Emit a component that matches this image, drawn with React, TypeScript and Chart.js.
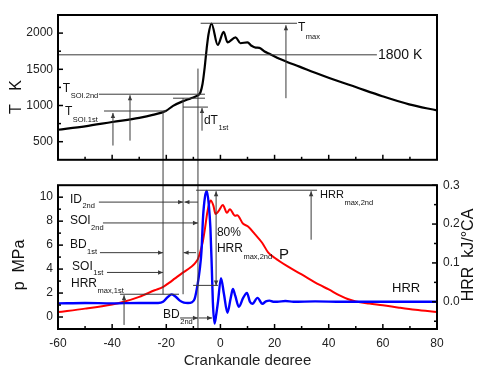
import React, { useEffect, useRef } from 'react';
import { Chart, registerables } from 'chart.js';

Chart.register(...registerables);

const FONT = '"Liberation Sans", Arial, Helvetica, sans-serif';
const W = 478;
const TOP_H = 172;
const BOT_H = 193;

// ---------- series ----------
const tAngle = [-60, -50, -40, -30, -25, -20.2, -17.5, -13.8, -11, -8.7, -7.4, -6.6, -5.8, -5.1, -4.4, -3.3, -1.0, 1.2, 2.6, 5.6, 7.4, 10, 11.5, 13, 14.4, 16.3, 18.1, 21.8, 24.4, 29.2, 35, 40.2, 50.2, 59.8, 69.7, 80];
const tValue = [665, 712, 772, 830, 870, 924, 995, 1060, 1098, 1132, 1180, 1300, 1530, 1780, 1985, 2132, 1836, 2018, 1873, 1941, 1860, 1873, 1825, 1800, 1796, 1745, 1714, 1645, 1605, 1537, 1452, 1380, 1251, 1128, 1015, 932];

const pAngle = [-60, -50, -40, -36, -30, -24.3, -21.3, -19, -16.9, -13.9, -11, -9.5, -8.2, -7.5, -6.5, -5.7, -4.8, -4.2, -3.6, -2.6, -1.8, -0.5, 0.9, 2.4, 3.5, 5.4, 6.2, 8.3, 10.2, 12.8, 15.4, 17.6, 20, 25, 30, 36.5, 40, 44, 47, 50, 55, 60, 66, 72, 80];
const pValue = [0.41, 0.70, 1.05, 1.25, 1.68, 2.23, 2.5, 2.85, 3.2, 3.7, 4.15, 4.45, 4.9, 5.4, 6.3, 7.4, 8.8, 9.4, 9.72, 9.3, 8.6, 8.9, 9.34, 8.7, 9.0, 8.45, 8.5, 7.8, 7.55, 6.9, 6.2, 5.4, 4.95, 4.2, 3.55, 2.7, 2.3, 1.8, 1.5, 1.3, 1.12, 0.98, 0.78, 0.6, 0.42];

const hAngle = [-60, -50, -40, -30, -23, -21.2, -19.5, -18, -16.5, -15, -13.5, -12, -10.5, -9.5, -8.4, -7.7, -7, -6.4, -5.7, -5.0, -4.3, -3.7, -3.2, -2.8, -2.2, -1.6, -0.9, 0.2, 1.3, 2.6, 3.8, 4.6, 5.5, 6.8, 8.4, 9.8, 10.9, 11.8, 13.7, 15.5, 16.8, 18.1, 19.5, 21, 24, 27, 35, 45, 60, 70, 80];
const hValue = [-0.004, -0.003, -0.004, -0.003, -0.003, 0.0, 0.012, 0.019, 0.013, 0.003, -0.002, -0.003, -0.001, 0.008, 0.046, 0.08, 0.13, 0.22, 0.27, 0.285, 0.25, 0.19, 0.09, 0.0, -0.056, -0.035, 0.0, 0.061, 0.02, -0.028, 0.01, 0.033, 0.015, -0.013, 0.01, 0.023, 0.0, -0.005, 0.01, -0.005, 0.001, 0.003, 0.0, 0.0, 0.002, 0.0, 0.001, 0.0, 0.0, 0.0, 0.0];

// ---------- ticks ----------
const xTicks = [-60, -40, -20, 0, 20, 40, 60, 80];
const xMinorTicks = [-50, -30, -10, 10, 30, 50, 70];
const tTicks = [500, 1000, 1500, 2000];
const tMinorTicks = [750, 1250, 1750];
const pTicks = [0, 2, 4, 6, 8, 10];
const pMinorTicks = [1, 3, 5, 7, 9];
const hTicks = [0, 0.1, 0.2, 0.3];
const hMinorTicks = [-0.05, 0.05, 0.15, 0.25];

// ---------- annotations (data coordinates) ----------
// top chart: horizontal guide lines [xFrom, xTo, T]
const tHLines = [
  [-7.3, 28.3, 2136],
  [-60, 57.8, 1700],
  [-44.9, -5.7, 1156],
  [-17.5, -5.7, 1101],
  [-13.8, -4.6, 978],
  [-43.0, -20.1, 924],
];
// top chart: vertical arrows [x, fromT, tipT]
const tArrows = [
  [-39.7, 447, 897],
  [-33.4, 515, 1142],
  [24.2, 1101, 2109],
  [-6.8, 652, 965],
];
// cursor lines crossing both panels [x, start T (top), end p (bottom)]
const cursorLines = [
  [-21.2, 924, 1.9],
  [-13.8, 1101, 1.9],
  [-8.3, 1510, -1],
];
// top labels [main, sub, x, T, size, subDy]
const tLabels: [string, string, number, number, number, number][] = [
  ['T', 'max', 28.66, 2068, 12, 9],
  ['1800 K', '', 58.2, 1700, 14, 0],
  ['T', 'SOI.2nd', -58.2, 1237, 12, 8],
  ['T', 'SOI.1st', -57.4, 910, 12, 8],
  ['dT', '1st', -6.1, 788, 12, 7],
];
// bottom: horizontal arrows [xFrom, xTip, p]
const pHArrows = [
  [-44.9, -13.8, 9.59],
  [-8.3, -13.3, 9.59],
  [-43.4, -8.3, 7.85],
  [-44.5, -21.2, 5.37],
  [-9.0, -13.6, 5.37],
  [-41.9, -21.2, 3.72],
  [-14.9, -8.3, -0.08],
  [-8.0, -3.1, -0.08],
];
// bottom: plain horizontal lines [xFrom, xTo, p]
const pHLines = [
  [-37.1, -15.3, 1.9],
  [-9.0, 35.7, 10.58],
  [-10.1, -0.9, 2.64],
];
// bottom: vertical arrows [x, fromP, tipP]
const pVArrows = [
  [-35.6, -0.66, 1.82],
  [33.5, 6.45, 10.5],
  [-1.6, 6.0, 10.5],
  [-1.6, 6.0, 2.64],
];
// bottom labels [main, sub, x, p, size, subDy]
const pLabels: [string, string, number, number, number, number][] = [
  ['ID', '2nd', -55.6, 9.83, 12, 7],
  ['SOI', '2nd', -55.6, 8.02, 12, 7],
  ['BD', '1st', -55.6, 6.03, 12, 7],
  ['SOI', '1st', -54.8, 4.21, 12, 6],
  ['HRR', 'max,1st', -55.2, 2.81, 12, 8],
  ['BD', '2nd', -21.2, 0.17, 12, 7],
  ['HRR', 'max,2nd', 36.8, 10.17, 11, 8],
  ['80%', '', -1.3, 7.02, 12, 0],
  ['HRR', 'max,2nd', -1.3, 5.70, 12, 8],
  ['P', '', 21.6, 5.21, 15, 0],
  ['HRR', '', 63.4, 2.40, 13, 0],
];

// ---------- drawing helpers ----------
function seg(ctx: CanvasRenderingContext2D, x0: number, y0: number, x1: number, y1: number) {
  ctx.beginPath();
  ctx.moveTo(x0, y0);
  ctx.lineTo(x1, y1);
  ctx.stroke();
}
function arrow(ctx: CanvasRenderingContext2D, x0: number, y0: number, x1: number, y1: number) {
  seg(ctx, x0, y0, x1, y1);
  const a = Math.atan2(y1 - y0, x1 - x0);
  const len = 5, half = 2.2;
  ctx.beginPath();
  ctx.moveTo(x1, y1);
  ctx.lineTo(x1 - len * Math.cos(a) + half * Math.sin(a), y1 - len * Math.sin(a) - half * Math.cos(a));
  ctx.lineTo(x1 - len * Math.cos(a) - half * Math.sin(a), y1 - len * Math.sin(a) + half * Math.cos(a));
  ctx.closePath();
  ctx.fill();
}
function label(ctx: CanvasRenderingContext2D, main: string, sub: string, px: number, py: number, size: number, subDy: number) {
  ctx.font = `${size}px ${FONT}`;
  ctx.textAlign = 'left';
  ctx.textBaseline = 'middle';
  ctx.fillText(main, px, py);
  if (sub) {
    const w = ctx.measureText(main).width;
    ctx.font = `7.5px ${FONT}`;
    ctx.fillText(sub, px + w + 0.5, py + subDy);
  }
}
function vTitle(ctx: CanvasRenderingContext2D, text: string, cx: number, cy: number, size: number) {
  ctx.save();
  ctx.translate(cx, cy);
  ctx.rotate(-Math.PI / 2);
  ctx.font = `${size}px ${FONT}`;
  ctx.textAlign = 'center';
  ctx.textBaseline = 'middle';
  ctx.fillText(text, 0, 0);
  ctx.restore();
}
function frameAndTicks(ctx: CanvasRenderingContext2D, chart: any, yLeft: any, yLeftMaj: number[], yLeftMin: number[], yRight?: any, yRightMaj?: number[], yRightMin?: number[]) {
  const a = chart.chartArea;
  const xs = chart.scales.x;
  ctx.strokeStyle = '#000';
  ctx.lineWidth = 1.5;
  xTicks.forEach(v => { const px = xs.getPixelForValue(v); seg(ctx, px, a.bottom, px, a.bottom - 5); });
  xMinorTicks.forEach(v => { const px = xs.getPixelForValue(v); seg(ctx, px, a.bottom, px, a.bottom - 3); });
  yLeftMaj.forEach(v => { const py = yLeft.getPixelForValue(v); seg(ctx, a.left, py, a.left + 5, py); });
  yLeftMin.forEach(v => { const py = yLeft.getPixelForValue(v); seg(ctx, a.left, py, a.left + 3, py); });
  if (yRight && yRightMaj && yRightMin) {
    yRightMaj.forEach(v => { const py = yRight.getPixelForValue(v); seg(ctx, a.right, py, a.right - 5, py); });
    yRightMin.forEach(v => { const py = yRight.getPixelForValue(v); seg(ctx, a.right, py, a.right - 3, py); });
  }
  ctx.lineWidth = 2;
  ctx.strokeRect(a.left, a.top, a.right - a.left, a.bottom - a.top);
}

const topOverlay = {
  id: 'topOverlay',
  afterDraw(chart: any) {
    const ctx: CanvasRenderingContext2D = chart.ctx;
    const xs = chart.scales.x, ys = chart.scales.y;
    const X = (v: number) => xs.getPixelForValue(v);
    const Y = (v: number) => ys.getPixelForValue(v);
    ctx.save();
    ctx.strokeStyle = '#3a3a3a';
    ctx.fillStyle = '#3a3a3a';
    ctx.lineWidth = 1;
    tHLines.forEach(([x0, x1, t]) => seg(ctx, X(x0), Y(t), X(x1), Y(t)));
    tArrows.forEach(([x, f, t]) => arrow(ctx, X(x), Y(f), X(x), Y(t)));
    cursorLines.forEach(([x, t]) => seg(ctx, X(x), Y(t), X(x), chart.height));
    frameAndTicks(ctx, chart, ys, tTicks, tMinorTicks);
    ctx.fillStyle = '#111';
    tLabels.forEach(([m, s, x, t, size, dy]) => label(ctx, m, s, X(x), Y(t), size, dy));
    vTitle(ctx, 'T   K', 17, 97, 16);
    ctx.restore();
  },
};

const bottomOverlay = {
  id: 'bottomOverlay',
  afterDraw(chart: any) {
    const ctx: CanvasRenderingContext2D = chart.ctx;
    const xs = chart.scales.x, ps = chart.scales.yP, hs = chart.scales.yH;
    const X = (v: number) => xs.getPixelForValue(v);
    const Y = (v: number) => ps.getPixelForValue(v);
    ctx.save();
    ctx.strokeStyle = '#3a3a3a';
    ctx.fillStyle = '#3a3a3a';
    ctx.lineWidth = 1;
    cursorLines.forEach(([x, , p]) => seg(ctx, X(x), 0, X(x), Y(p)));
    pHLines.forEach(([x0, x1, p]) => seg(ctx, X(x0), Y(p), X(x1), Y(p)));
    pHArrows.forEach(([x0, x1, p]) => arrow(ctx, X(x0), Y(p), X(x1), Y(p)));
    pVArrows.forEach(([x, f, t]) => arrow(ctx, X(x), Y(f), X(x), Y(t)));
    frameAndTicks(ctx, chart, ps, pTicks, pMinorTicks, hs, hTicks, hMinorTicks);
    ctx.fillStyle = '#111';
    pLabels.forEach(([m, s, x, p, size, dy]) => label(ctx, m, s, X(x), Y(p), size, dy));
    vTitle(ctx, 'p  MPa', 20, 93, 16);
    vTitle(ctx, 'HRR  kJ/\u00B0CA', 469, 83, 16);
    ctx.restore();
  },
};

const tickFont = { size: 12, family: FONT };

export default function App() {
  const topRef = useRef<HTMLCanvasElement>(null);
  const botRef = useRef<HTMLCanvasElement>(null);

  useEffect(() => {
    const top = new Chart(topRef.current as HTMLCanvasElement, {
      type: 'line',
      data: {
        datasets: [{
          label: 'T',
          data: tAngle.map((x, i) => ({ x, y: tValue[i] })),
          borderColor: '#000',
          borderWidth: 2.2,
          pointRadius: 0,
          cubicInterpolationMode: 'monotone',
          fill: false,
        }],
      },
      options: {
        responsive: false,
        animation: false,
        events: [],
        layout: { padding: { left: 0, right: 41, top: 15, bottom: 0 } },
        plugins: { legend: { display: false }, tooltip: { enabled: false }, title: { display: false } },
        scales: {
          x: {
            type: 'linear', min: -60, max: 80,
            grid: { display: false, drawTicks: false },
            border: { display: false },
            ticks: { display: false },
            afterFit: (s: any) => { s.height = 10; },
          },
          y: {
            type: 'linear', min: 250, max: 2250,
            grid: { display: false, drawTicks: false },
            border: { display: false },
            ticks: { font: tickFont, color: '#222', padding: 5, autoSkip: false, callback: (v: any) => String(v) },
            afterBuildTicks: (s: any) => { s.ticks = tTicks.map(v => ({ value: v })); },
            afterFit: (s: any) => { s.width = 58; },
          },
        },
      } as any,
      plugins: [topOverlay],
    });

    const bot = new Chart(botRef.current as HTMLCanvasElement, {
      type: 'line',
      data: {
        datasets: [
          {
            label: 'HRR',
            data: hAngle.map((x, i) => ({ x, y: hValue[i] })),
            borderColor: '#0000ff',
            borderWidth: 2.4,
            pointRadius: 0,
            cubicInterpolationMode: 'monotone',
            fill: false,
            yAxisID: 'yH',
          },
          {
            label: 'P',
            data: pAngle.map((x, i) => ({ x, y: pValue[i] })),
            borderColor: '#ff0000',
            borderWidth: 2,
            pointRadius: 0,
            cubicInterpolationMode: 'monotone',
            fill: false,
            yAxisID: 'yP',
          },
        ],
      },
      options: {
        responsive: false,
        animation: false,
        events: [],
        layout: { padding: { left: 0, right: 0, top: 11, bottom: 0 } },
        plugins: { legend: { display: false }, tooltip: { enabled: false }, title: { display: false } },
        scales: {
          x: {
            type: 'linear', min: -60, max: 80,
            grid: { display: false, drawTicks: false },
            border: { display: false },
            ticks: { font: tickFont, color: '#222', padding: 7, maxRotation: 0, autoSkip: false, callback: (v: any) => String(v) },
            afterBuildTicks: (s: any) => { s.ticks = xTicks.map(v => ({ value: v })); },
            title: { display: true, text: 'Crankangle degree', font: { size: 15, family: FONT }, color: '#222', padding: { top: 0, bottom: -5 } },
            afterFit: (s: any) => { s.height = 36; },
          },
          yP: {
            type: 'linear', position: 'left', min: -1, max: 11,
            grid: { display: false, drawTicks: false },
            border: { display: false },
            ticks: { font: tickFont, color: '#222', padding: 5, autoSkip: false, callback: (v: any) => String(v) },
            afterBuildTicks: (s: any) => { s.ticks = pTicks.map(v => ({ value: v })); },
            afterFit: (s: any) => { s.width = 58; },
          },
          yH: {
            type: 'linear', position: 'right', min: -0.07, max: 0.3,
            grid: { display: false, drawTicks: false },
            border: { display: false },
            ticks: { font: tickFont, color: '#222', padding: 6, autoSkip: false, callback: (v: any) => Number(v).toFixed(1) },
            afterBuildTicks: (s: any) => { s.ticks = hTicks.map(v => ({ value: v })); },
            afterFit: (s: any) => { s.width = 41; },
          },
        },
      } as any,
      plugins: [bottomOverlay],
    });

    return () => { top.destroy(); bot.destroy(); };
  }, []);

  return (
    <div style={{ position: 'fixed', left: 0, top: 0, width: W, height: TOP_H + BOT_H, background: '#fff', overflow: 'hidden' }}>
      <canvas ref={topRef} width={W} height={TOP_H} style={{ position: 'absolute', left: 0, top: 0, width: W, height: TOP_H, display: 'block' }} />
      <canvas ref={botRef} width={W} height={BOT_H} style={{ position: 'absolute', left: 0, top: TOP_H, width: W, height: BOT_H, display: 'block' }} />
    </div>
  );
}
